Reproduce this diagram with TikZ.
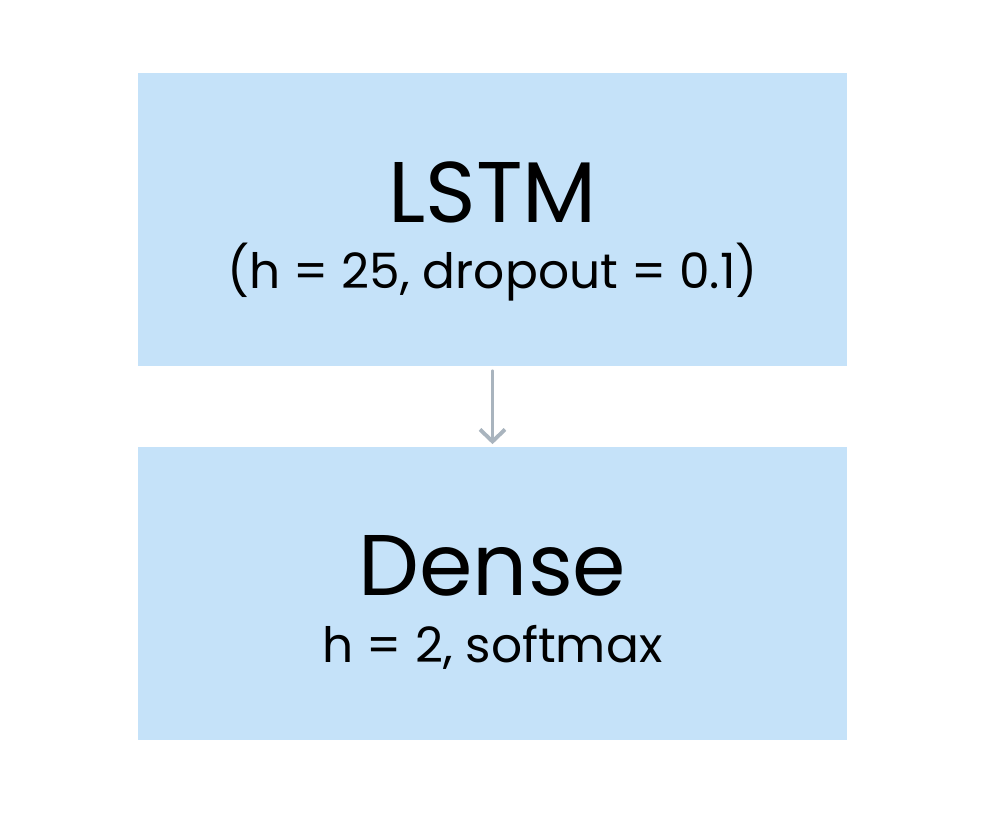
\documentclass[tikz,border=0pt]{standalone}
\usepackage{fontspec}
\setmainfont{Poppins}
\usetikzlibrary{arrows.meta,positioning}
\definecolor{layerFill}{HTML}{C5E2F9}
\definecolor{linkGray}{HTML}{A9B4BE}
\tikzset{
  layer/.style={fill=layerFill, minimum width=14.18cm, minimum height=5.86cm, inner sep=0pt},
  ltitle/.style={font=\fontsize{49}{56}\selectfont, inner sep=0pt, anchor=base},
  lsub/.style={font=\fontsize{27.7}{32}\selectfont, inner sep=0pt, anchor=base},
  link/.style={-{Straight Barb[length=2.4mm, width=5mm]}, line width=2.2pt, linkGray, line cap=round}
}
\begin{document}
\begin{tikzpicture}
  \useasboundingbox (0,0) rectangle (19.92,-16.36);
  % layers
  \node[layer] (lstm) at (9.85,-4.39) {};
  \node[layer] (dense) at (9.85,-11.86) {};
  % labels
  \node[ltitle] (lstmName) at (9.85,-4.44) {LSTM};
  \node[lsub] (lstmArgs) at (9.85,-5.76) {(h = 25, dropout = 0.1)};
  \node[ltitle] (denseName) at (9.85,-11.9) {Dense};
  \node[lsub] (denseArgs) at (9.85,-13.24) {h = 2, softmax};
  \draw[link] ([yshift=-0.1cm]lstm.south) -- ([yshift=0.04cm]dense.north);
\end{tikzpicture}
\end{document}
